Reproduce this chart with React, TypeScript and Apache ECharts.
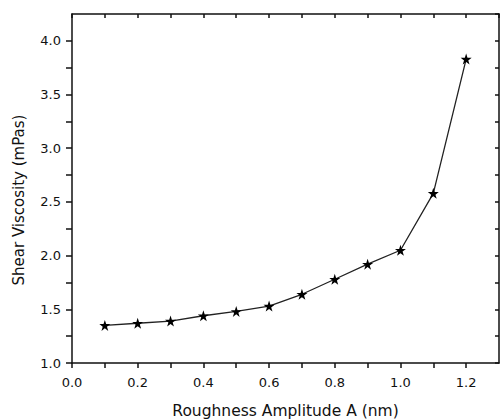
import React, { useEffect, useRef } from "react";
import * as echarts from "echarts";

const xValues = [0.1, 0.2, 0.3, 0.4, 0.5, 0.6, 0.7, 0.8, 0.9, 1.0, 1.1, 1.2];
const viscosity = [1.35, 1.37, 1.39, 1.44, 1.48, 1.53, 1.64, 1.78, 1.92, 2.05, 2.58, 3.83];
const xTitle = "Roughness Amplitude A (nm)";
const yTitle = "Shear Viscosity (mPas)";

const STAR =
  "path://M50,0 L61.8,35.1 L98.9,35.1 L68.9,56.8 L80.3,91.9 L50,70.2 L19.7,91.9 L31.1,56.8 L1.1,35.1 L38.2,35.1 Z";

export default function App() {
  const ref = useRef<HTMLDivElement>(null);
  useEffect(() => {
    if (!ref.current) return;
    const chart = echarts.init(ref.current, undefined, { renderer: "svg" });
    const font = "DejaVu Sans, Verdana, sans-serif";
    const lineStyle = { color: "#111", width: 1.5 };
    chart.setOption({
      animation: false,
      backgroundColor: "#fff",
      grid: { left: 72, right: 1, top: 14, bottom: 57, containLabel: false, outerBoundsMode: "none" },
      graphic: [
        {
          type: "text",
          x: 19,
          y: 200,
          rotation: Math.PI / 2,
          style: {
            text: yTitle,
            fontFamily: font,
            fontSize: 15,
            fill: "#111",
            align: "center",
            verticalAlign: "middle",
          },
        },
      ],
      xAxis: [
        {
          type: "value",
          min: 0,
          max: 1.3,
          interval: 0.1,
          position: "bottom",
          name: xTitle,
          nameLocation: "middle",
          nameGap: 40,
          nameTextStyle: { fontFamily: font, fontSize: 15.5, color: "#111" },
          axisLine: { onZero: false, lineStyle },
          axisTick: { show: true, inside: false, length: 5, lineStyle },
          splitLine: { show: false },
          axisLabel: {
            margin: 13,
            fontFamily: font,
            fontSize: 13,
            color: "#111",
            showMaxLabel: false,
            formatter: (v: number) => (Math.round(v * 10) % 2 === 0 ? v.toFixed(1) : ""),
          },
        },
        {
          type: "value",
          min: 0,
          max: 1.3,
          interval: 0.1,
          position: "top",
          axisLine: { onZero: false, lineStyle },
          axisTick: { show: true, inside: true, length: 4, lineStyle },
          splitLine: { show: false },
          axisLabel: { show: false },
        },
      ],
      yAxis: [
        {
          type: "value",
          min: 1.0,
          max: 4.25,
          interval: 0.25,
          position: "left",
          axisLine: { onZero: false, lineStyle },
          axisTick: { show: true, inside: false, length: 6, lineStyle },
          splitLine: { show: false },
          axisLabel: {
            margin: 11,
            fontFamily: font,
            fontSize: 13,
            color: "#111",
            showMaxLabel: false,
            formatter: (v: number) => (Math.round(v * 100) % 50 === 0 ? v.toFixed(1) : ""),
          },
        },
        {
          type: "value",
          min: 1.0,
          max: 4.25,
          interval: 0.25,
          position: "right",
          axisLine: { onZero: false, lineStyle },
          axisTick: { show: true, inside: true, length: 4, lineStyle },
          splitLine: { show: false },
          axisLabel: { show: false },
        },
      ],
      series: [
        {
          type: "line",
          data: xValues.map((x, i) => [x, viscosity[i]]),
          symbol: STAR,
          symbolSize: 11,
          showSymbol: true,
          lineStyle: { color: "#222", width: 1.3 },
          itemStyle: { color: "#000" },
        },
      ],
    });
    return () => chart.dispose();
  }, []);
  return <div ref={ref} style={{ width: 500, height: 420, position: "absolute", left: 0, top: 0 }} />;
}
